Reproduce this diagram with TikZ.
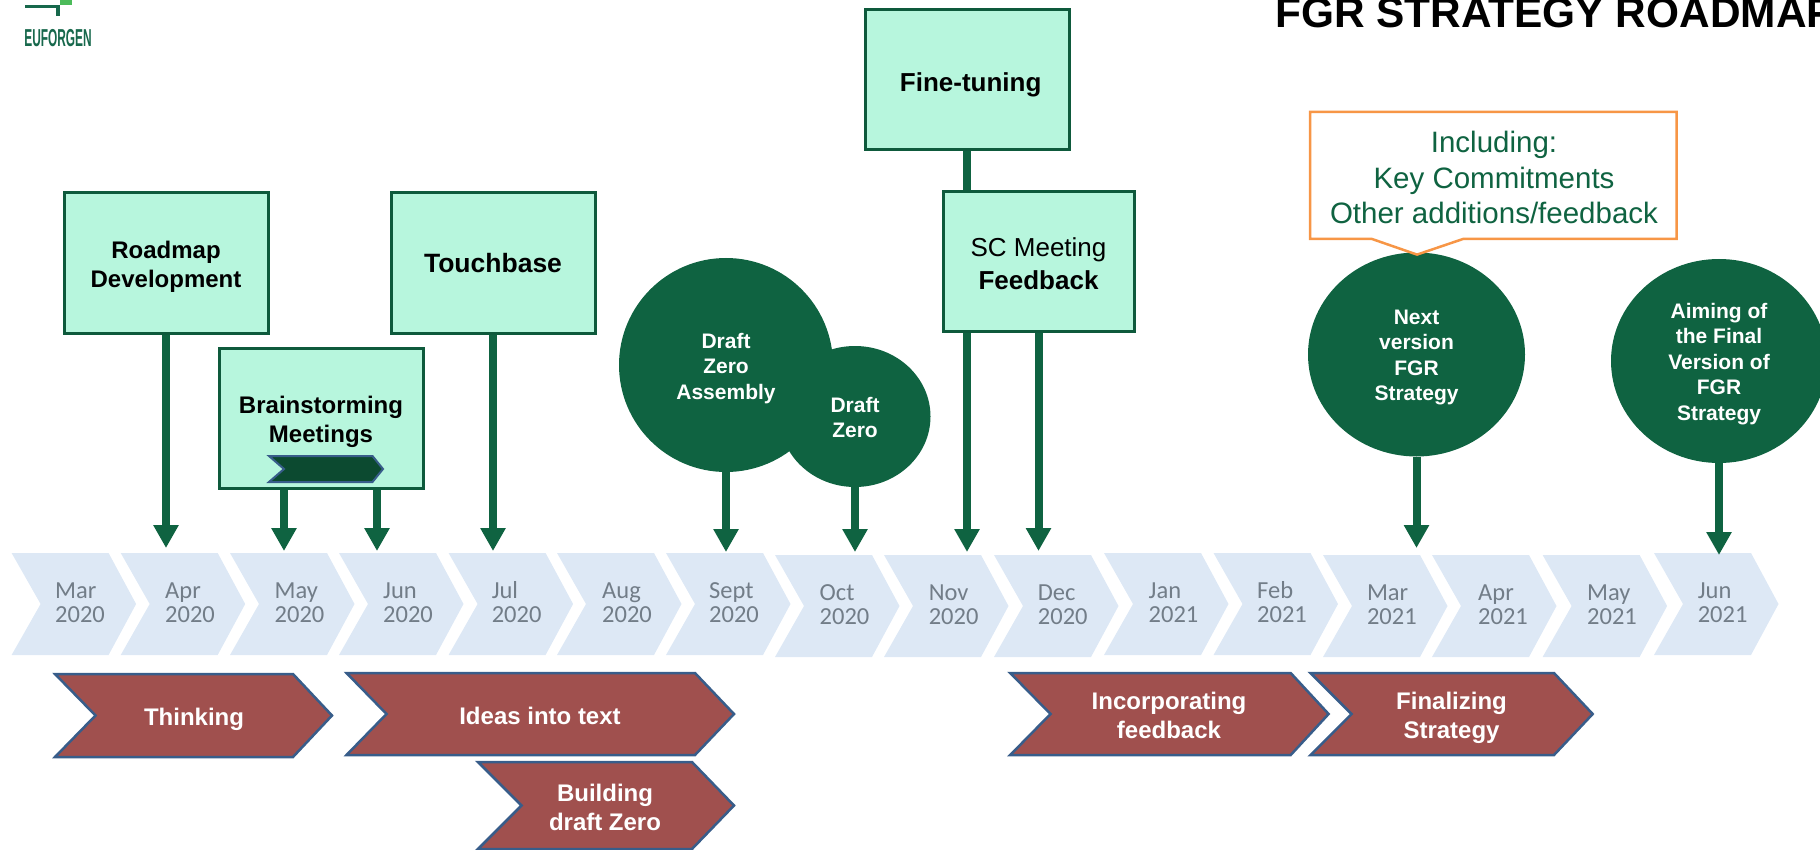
\documentclass[tikz,border=0pt]{standalone}
\usepackage{fontspec}
\setmainfont{Liberation Sans}
\newfontfamily\carl{Carlito}
\usetikzlibrary{arrows.meta,shapes.geometric}
\definecolor{dgreen}{HTML}{0F6341}
\definecolor{boxedge}{HTML}{0E5A3C}
\definecolor{boxfill}{HTML}{B7F6DD}
\definecolor{redfill}{HTML}{A0504E}
\definecolor{blueedge}{HTML}{385D8A}
\definecolor{monthfill}{HTML}{DDE8F5}
\definecolor{monthtext}{HTML}{727D88}
\definecolor{orangeedge}{HTML}{F79646}
\definecolor{logogreen}{HTML}{4CBB5A}
\definecolor{logodark}{HTML}{17684C}
\definecolor{smallfill}{HTML}{0C4A30}
\newcommand{\tl}[1]{\begin{tabular}[t]{@{}c@{}}#1\end{tabular}}
\newcommand{\tll}[1]{\begin{tabular}[t]{@{}l@{}}#1\end{tabular}}
\newcommand{\up}[2]{\raisebox{#1pt}[0pt][0pt]{\tl{#2}}}
\newcommand{\chevpath}[7][]{\draw[#1] (#2,#6) -- (#4,#6) -- (#5,{(#6+#7)/2}) -- (#4,#7) -- (#2,#7) -- (#3,{(#6+#7)/2}) -- cycle;}
\tikzset{
  x=1pt,y=-1pt,
  boxnode/.style={draw=boxedge,line width=3pt,fill=boxfill,rectangle,inner sep=0pt,minimum width=#1,text=black,font=\fontsize{24}{29}\selectfont\bfseries},
  boxnode/.default=204pt,
  blob/.style={ellipse,fill=dgreen,inner sep=0pt,text=white,font=\fontsize{21}{25.5}\selectfont\bfseries},
  arr/.style={draw=dgreen,fill=dgreen,line width=8pt,-{Triangle[width=24pt,length=23pt]}},
  redchev/.style={fill=redfill,draw=blueedge,line width=2.5pt,line join=miter},
  redtext/.style={anchor=base,inner sep=0pt,text=white,font=\fontsize{24}{29}\selectfont\bfseries},
  monthlabel/.style={anchor=base west,inner sep=0pt,text=monthtext,font=\carl\fontsize{24.5}{24}\selectfont}
}
\begin{document}
\begin{tikzpicture}
\useasboundingbox (0,0) rectangle (1820,850);
\clip (0,0) rectangle (1820,850);
% logo
\fill[logodark] (25,5) rectangle (60,8);
\fill[logodark] (56,5) rectangle (60,16.5);
\fill[logogreen] (60,0) rectangle (71.7,4.7);
\node[anchor=base,inner sep=0pt,text=logodark,font=\fontsize{24.5}{24.5}\selectfont\bfseries] (logo) at (58,46.7) {\scalebox{.485}[1]{EUFORGEN}};
% title
\node[anchor=base west,inner sep=0pt,font=\fontsize{42.4}{42.4}\selectfont\bfseries] (title) at (1275,27.5) {FGR STRATEGY ROADMAP};
% timeline
\foreach \i/\x/\lx/\by/\mo/\yr in {
 1/11.6/55/598/Mar/2020,2/120.7/165/598/Apr/2020,3/230/274.5/598/May/2020,4/339/383/598/Jun/2020,
 5/448.6/491.6/598/Jul/2020,6/557/602/598/Aug/2020,7/666/709/598/Sept/2020,8/775/819.5/600/Oct/2020,
 9/884/928.6/600/Nov/2020,10/994/1037.7/600/Dec/2020,11/1104/1148.5/598/Jan/2021,12/1213.5/1257/598/Feb/2021,
 13/1323/1366.8/600/Mar/2021,14/1432/1478/600/Apr/2021,15/1542.6/1587/600/May/2021,16/1654/1697.6/598/Jun/2021}{
  \fill[monthfill] (\x,\by-45) -- (\x+97,\by-45) -- (\x+124.5,\by+6) -- (\x+97,\by+57) -- (\x,\by+57) -- (\x+29,\by+6) -- cycle;
  \node[monthlabel] (m\i) at (\lx,\by) {\tll{\mo\\\yr}};
}
% red chevrons
\chevpath[redchev]{55}{95.5}{293}{332}{674}{757}
\chevpath[redchev]{346.5}{386.5}{695}{734}{673}{755}
\chevpath[redchev]{478}{521.5}{692}{734}{762}{849}
\chevpath[redchev]{1010.2}{1050.5}{1290.7}{1328.6}{673}{755}
\chevpath[redchev]{1310.5}{1351.5}{1554}{1592.7}{673}{755}
\node[redtext] (thinking) at (194,725) {Thinking};
\node[redtext] (ideas) at (540,724) {Ideas into text};
\node[redtext] (building) at (605,801.5) {\tl{Building\\draft Zero}};
\node[redtext] (incorp) at (1169,709) {\tl{Incorporating\\feedback}};
\node[redtext] (final) at (1451.5,709) {\tl{Finalizing\\Strategy}};
% arrow targets
\coordinate (tApr) at (166,548);
\coordinate (tMay) at (284,551);
\coordinate (tJun) at (377,551);
\coordinate (tJul) at (493,551);
\coordinate (tSep) at (726,552);
\coordinate (tOct) at (855,552);
\coordinate (tNov) at (967,552);
\coordinate (tDec) at (1038.5,551);
\coordinate (tMar) at (1416.5,548);
\coordinate (tJune) at (1719,555);
% boxes
\node[boxnode,minimum height=140pt] (roadmap) at (166,263) {\up{4.5}{Roadmap\\Development}};
\node[boxnode,minimum height=140pt,font=\fontsize{26.5}{30}\selectfont\bfseries] (touch) at (493,263) {\up{-10}{Touchbase}};
\node[boxnode,minimum height=140pt] (brain) at (321,418) {\up{5}{Brainstorming\\Meetings}};
\node[boxnode,minimum height=140pt,font=\fontsize{26}{30}\selectfont\bfseries] (fine) at (967,80) {\hspace*{7.4pt}\up{-11.5}{Fine-tuning}};
\draw[arr] (fine.south) -- (tNov);
\node[boxnode=191pt,minimum height=139pt,font=\fontsize{26}{33}\selectfont] (sc) at (1038.5,261.5) {\up{4.5}{SC Meeting\\\textbf{Feedback}}};
\chevpath[fill=smallfill,draw=blueedge,line width=2pt,line join=miter]{269}{284}{372.5}{383}{456}{482}
\draw[arr] (roadmap.south) -- (tApr);
\draw[arr] (tMay |- brain.south) -- (tMay);
\draw[arr] (tJun |- brain.south) -- (tJun);
\draw[arr] (touch.south) -- (tJul);
\draw[arr] (sc.south) -- (tDec);
% circles
\node[blob,minimum width=214pt,minimum height=214pt] (dza) at (726,365) {\up{17}{Draft\\Zero\\Assembly}};
\node[blob,minimum width=151pt,minimum height=141pt] (dz) at (855,416.5) {\up{4.5}{Draft\\Zero}};
\node[blob,minimum width=217pt,minimum height=204pt] (next) at (1416.5,354.5) {\up{30.5}{Next\\version\\FGR\\Strategy}};
\node[blob,minimum width=216pt,minimum height=204pt] (aim) at (1719,361) {\up{43}{Aiming of\\the Final\\Version of\\FGR\\Strategy}};
\draw[arr] (dza.south) -- (tSep);
\draw[arr] (dz.south) -- (tOct);
\draw[arr] (next.south) -- (tMar);
\draw[arr] (aim.south) -- (tJune);
% callout
\draw[orangeedge,line width=2.5pt,fill=white,line join=miter] (1310,112) -- (1676.5,112) -- (1676.5,239) -- (1463,239) -- (1417,254.6) -- (1372,239) -- (1310,239) -- cycle;
\node[anchor=base,inner sep=0pt,text=dgreen,font=\fontsize{29.5}{35.5}\selectfont] (incl) at (1494,153) {\tl{Including:\\Key Commitments\\Other additions/feedback}};
\end{tikzpicture}
\end{document}
